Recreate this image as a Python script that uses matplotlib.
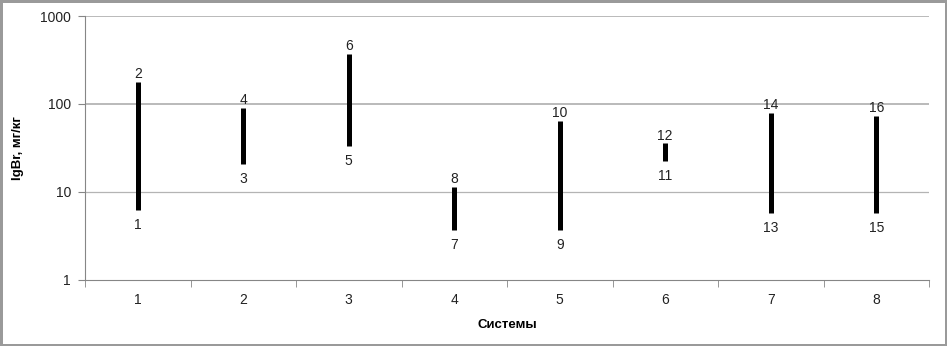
import matplotlib.pyplot as plt
from matplotlib.ticker import FixedLocator, NullLocator

plt.rcParams['font.family'] = ['Liberation Sans', 'DejaVu Sans']

# data
systems = [1, 2, 3, 4, 5, 6, 7, 8]
low = [6.2, 20.6, 33, 3.7, 3.7, 22.3, 5.75, 5.75]
high = [179, 90, 369, 11.4, 64, 35.5, 79, 72.6]
low_labels = ['1', '3', '5', '7', '9', '11', '13', '15']
high_labels = ['2', '4', '6', '8', '10', '12', '14', '16']
y_ticks = [1, 10, 100, 1000]

fig = plt.figure(figsize=(9.47, 3.46), dpi=100, edgecolor='#9a9a9a', linewidth=2.5)
ax = fig.add_axes([85/947, 1-279.5/346, 844/947, 263.5/346])

ax.set_yscale('log')
ax.set_ylim(1, 1000)
ax.set_xlim(0.5, 8.5)

# gridlines
for v in y_ticks[1:]:
    ax.axhline(v, color='#b4b4b4', lw=1.3 if v > 10 else 0.9, zorder=0)

ax.vlines(systems, low, high, color='black', lw=3.6, zorder=3)

for x, lo, hi, ll, hl in zip(systems, low, high, low_labels, high_labels):
    ax.annotate(ll, (x, lo), xytext=(0, -6), textcoords='offset points',
                ha='center', va='top', fontsize=10, color='#222222')
    ax.annotate(hl, (x, hi), xytext=(0, 0.5), textcoords='offset points',
                ha='center', va='bottom', fontsize=10, color='#222222')

for s in ['top', 'right']:
    ax.spines[s].set_visible(False)
ax.spines['left'].set_color('#868686')
ax.spines['bottom'].set_color('#868686')

ax.yaxis.set_major_locator(FixedLocator(y_ticks))
ax.yaxis.set_minor_locator(NullLocator())
ax.set_yticklabels([str(v) for v in y_ticks])
ax.tick_params(axis='y', length=5, color='#868686', labelsize=10, pad=5, labelcolor='#222222')

ax.set_xticks(systems)
ax.set_xticklabels([str(s) for s in systems])
ax.set_xticks([i + 0.5 for i in range(0, 9)], minor=True)
ax.tick_params(axis='x', which='major', length=0, labelsize=10, pad=10, labelcolor='#222222')
ax.tick_params(axis='x', which='minor', length=5, color='#868686')

ax.set_ylabel('lgBr, мг/кг', fontsize=9.5, fontweight='bold', labelpad=12)
ax.set_xlabel('Системы', fontsize=9.5, fontweight='bold', labelpad=8)

fig.savefig('out.png', dpi=100)
